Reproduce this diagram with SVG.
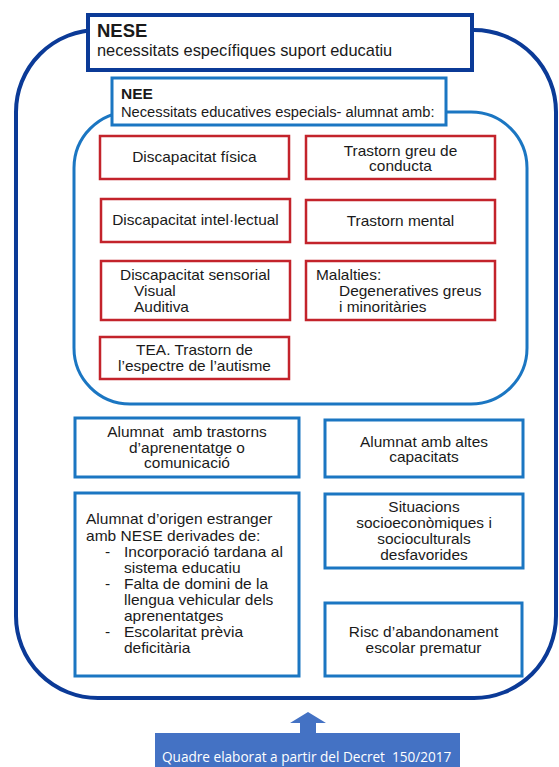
<svg xmlns="http://www.w3.org/2000/svg" width="559" height="767" viewBox="0 0 559 767">
<style>
.t{font-family:"Liberation Sans",Arial,sans-serif;font-size:13.8px;fill:#1a1a1a;transform-box:fill-box;transform-origin:0 0;transform:scaleX(1.12)}
.c{text-anchor:middle;transform-origin:50% 0}
.e{font-size:14px;transform:scaleX(1.11)}
.h{transform:none}
.red{fill:#fff;stroke:#c3232b;stroke-width:2.5}
.blu{fill:#fff;stroke:#1b76c2;stroke-width:3}
.dk{fill:none;stroke:#0b3a97;stroke-width:4}
</style>
<rect width="559" height="767" fill="#fff"/>
<g id="outer"><rect class="dk" x="16" y="30" width="540" height="668" rx="82" ry="82"/></g>
<g id="nese">
<rect x="88" y="15" width="384" height="55" fill="#fff" stroke="#0b3a97" stroke-width="4"/>
<text class="t h" x="97" y="37" style="font-size:18.5px;font-weight:bold">NESE</text>
<text class="t h" x="97" y="56" style="font-size:16.4px">necessitats específiques suport educatiu</text>
</g>
<g id="nee-area"><rect x="74" y="112" width="453" height="292" rx="56" ry="56" fill="none" stroke="#1b76c2" stroke-width="3"/></g>
<g id="nee">
<rect class="blu" x="112" y="78" width="334" height="47"/>
<text class="t h" x="121" y="99" style="font-size:15.5px;font-weight:bold">NEE</text>
<text class="t h" x="121" y="117" style="font-size:14.7px">Necessitats educatives especials- alumnat amb:</text>
</g>
<g id="fisica"><rect class="red" x="100" y="136" width="189" height="43"/>
<text class="t c" x="194.5" y="162">Discapacitat física</text></g>
<g id="conducta"><rect class="red" x="306" y="136" width="189" height="43"/>
<text class="t c" x="400.5" y="156">Trastorn greu de</text>
<text class="t c" x="400.5" y="171">conducta</text></g>
<g id="intel"><rect class="red" x="101" y="199" width="189" height="43"/>
<text class="t c" x="195.5" y="225">Discapacitat intel·lectual</text></g>
<g id="mental"><rect class="red" x="306" y="200" width="189" height="43"/>
<text class="t c" x="400.5" y="226">Trastorn mental</text></g>
<g id="sensorial"><rect class="red" x="101" y="261" width="189" height="59"/>
<text class="t" x="120" y="280">Discapacitat sensorial</text>
<text class="t" x="134" y="296">Visual</text>
<text class="t" x="134" y="312">Auditiva</text></g>
<g id="malalties"><rect class="red" x="306" y="261" width="189" height="59"/>
<text class="t" x="316" y="280">Malalties:</text>
<text class="t" x="339" y="296">Degeneratives greus</text>
<text class="t" x="339" y="312">i minoritàries</text></g>
<g id="tea"><rect class="red" x="100" y="337" width="189" height="42"/>
<text class="t c" x="194.5" y="355">TEA. Trastorn de</text>
<text class="t c" x="194.5" y="371">l’espectre de l’autisme</text></g>
<g id="aprenentatge"><rect class="blu" x="75" y="418" width="224" height="59"/>
<text class="t c" x="187" y="437" xml:space="preserve">Alumnat  amb trastorns</text>
<text class="t c" x="187" y="453">d’aprenentatge o</text>
<text class="t c" x="187" y="468">comunicació</text></g>
<g id="altes"><rect class="blu" x="325" y="420" width="198" height="57"/>
<text class="t c" x="424" y="447">Alumnat amb altes</text>
<text class="t c" x="424" y="462">capacitats</text></g>
<g id="estranger"><rect class="blu" x="75" y="493" width="224" height="183"/>
<text class="t e" x="86" y="524">Alumnat d’origen estranger</text>
<text class="t e" x="86" y="541">amb NESE derivades de:</text>
<text class="t e" x="105" y="557">-</text>
<text class="t e" x="124" y="557">Incorporació tardana al</text>
<text class="t e" x="124" y="573">sistema educatiu</text>
<text class="t e" x="105" y="589">-</text>
<text class="t e" x="124" y="589">Falta de domini de la</text>
<text class="t e" x="124" y="605">llengua vehicular dels</text>
<text class="t e" x="124" y="621">aprenentatges</text>
<text class="t e" x="105" y="637">-</text>
<text class="t e" x="124" y="637">Escolaritat prèvia</text>
<text class="t e" x="124" y="653">deficitària</text></g>
<g id="socio"><rect class="blu" x="325" y="494" width="198" height="74"/>
<text class="t c" x="424" y="512">Situacions</text>
<text class="t c" x="424" y="528">socioeconòmiques i</text>
<text class="t c" x="424" y="544">socioculturals</text>
<text class="t c" x="424" y="560">desfavorides</text></g>
<g id="risc"><rect class="blu" x="325" y="603" width="197" height="73"/>
<text class="t c" x="423.5" y="637">Risc d’abandonament</text>
<text class="t c" x="423.5" y="653">escolar prematur</text></g>
<g id="font"><path d="M155 733 H300 V723 H290 L308 712 L326 723 H316 V733 H460 V767 H155 Z" fill="#4472c4"/>
<text x="162" y="762" xml:space="preserve" style="font-family:'Open Sans','Noto Sans',sans-serif;font-size:13.6px;fill:#fff">Quadre elaborat a partir del Decret  150/2017</text></g>
</svg>
